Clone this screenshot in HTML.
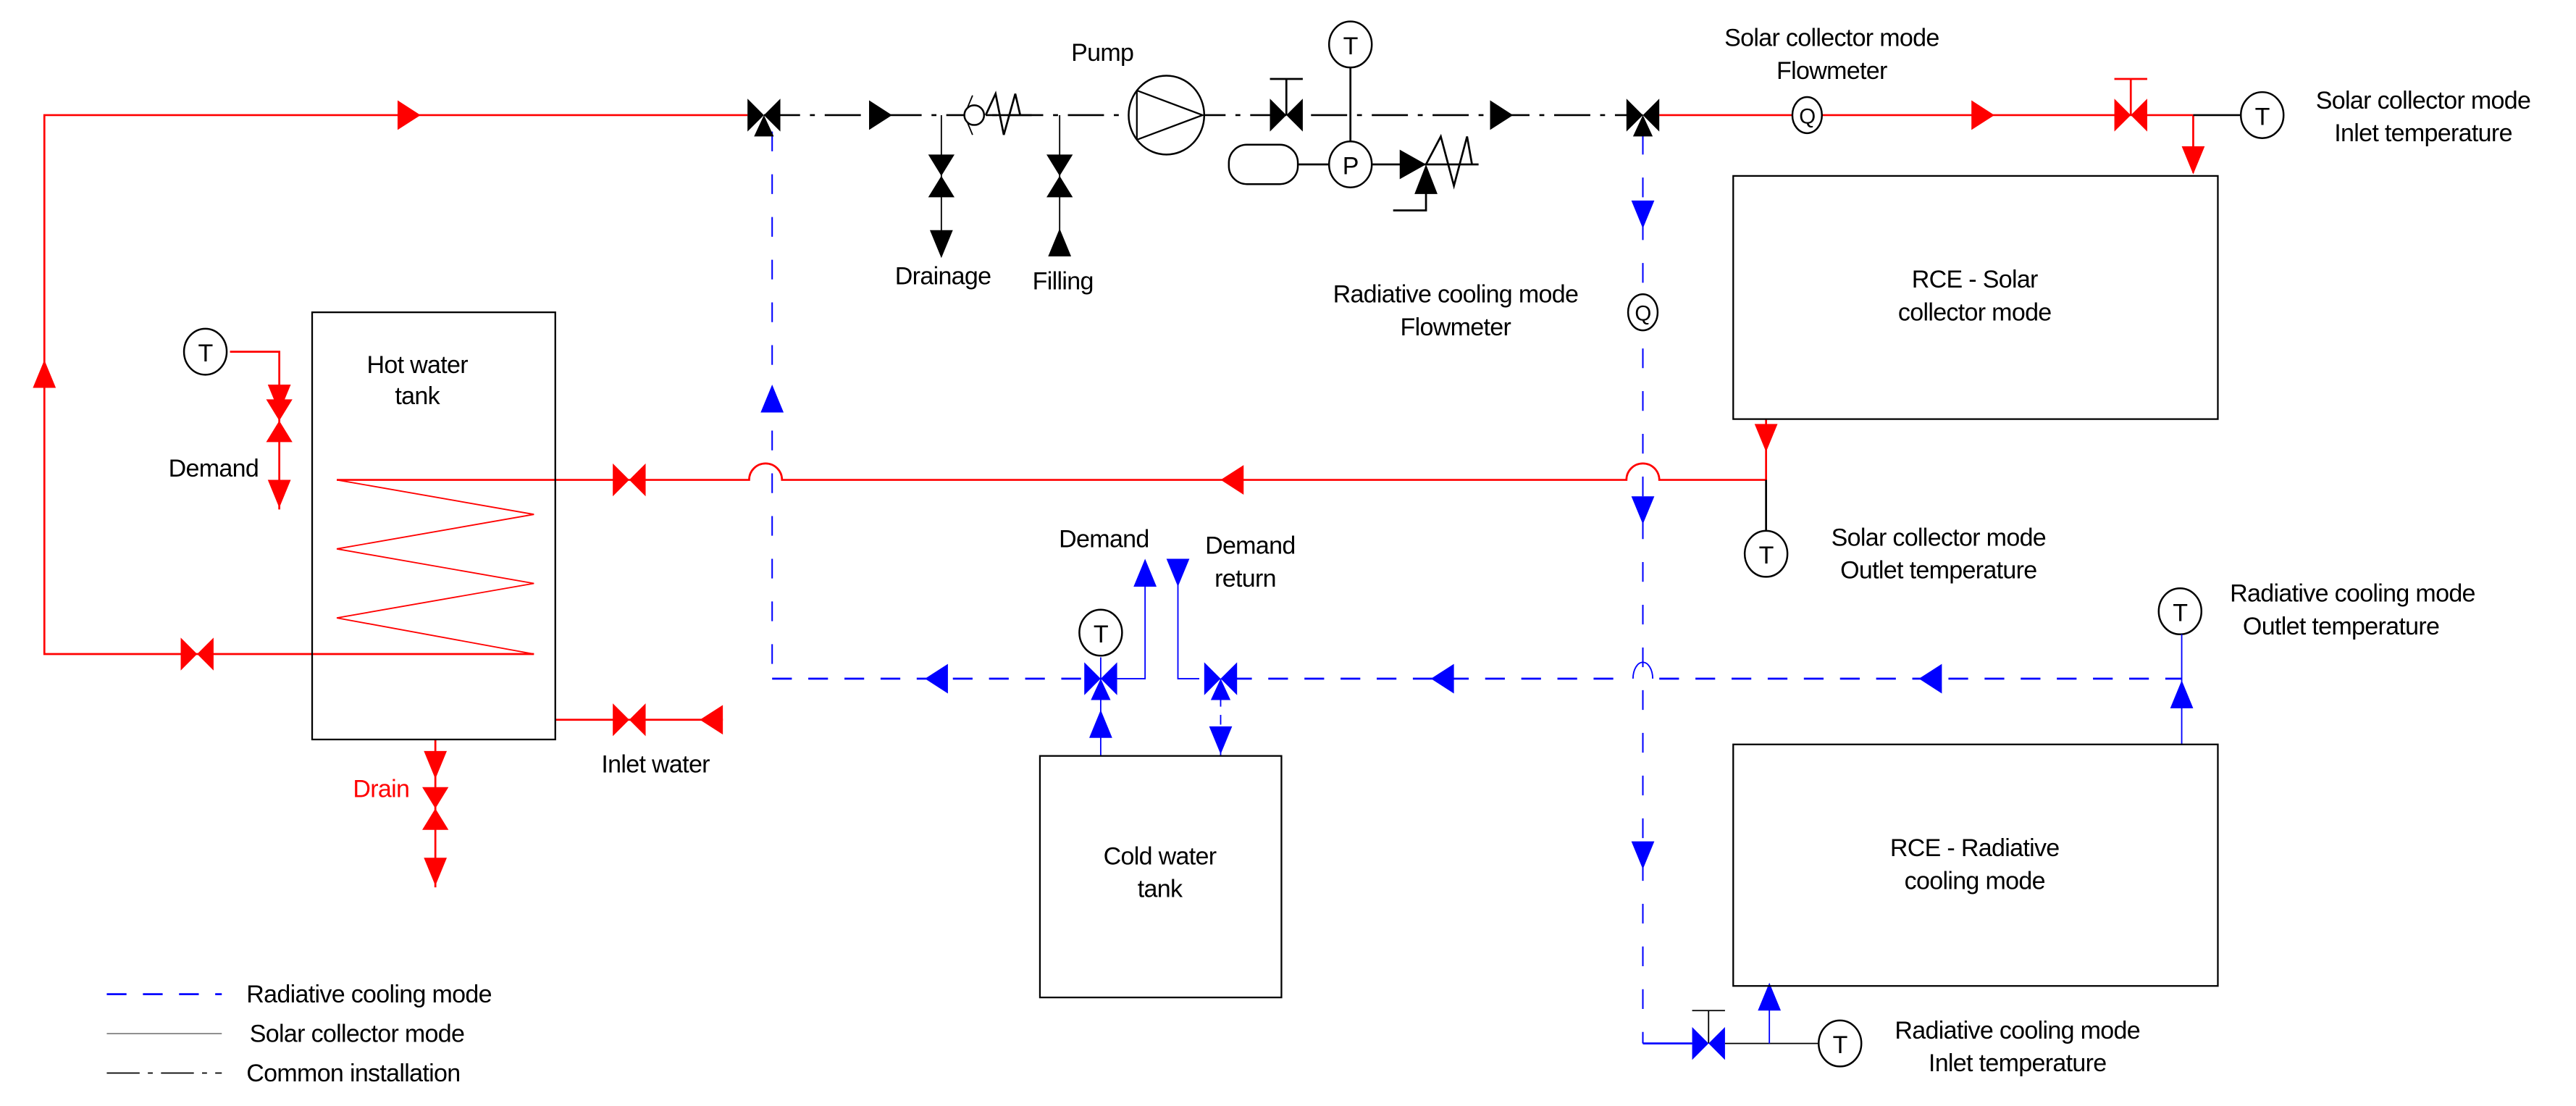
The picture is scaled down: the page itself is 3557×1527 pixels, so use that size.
<!DOCTYPE html>
<html><head><meta charset="utf-8"><style>
html,body{margin:0;padding:0;background:#fff}
svg{display:block}
text{font-family:"Liberation Sans",Arial,sans-serif;font-size:15px;fill:#000;letter-spacing:-0.3px}
</style></head><body>
<svg width="3557" height="1527" viewBox="0 0 1568 673" xmlns="http://www.w3.org/2000/svg">
<defs>
<g id="bh"><polygon points="-10,-10 0,0 -10,10"/><polygon points="10,-10 0,0 10,10"/></g>
<g id="bv"><polygon points="-8,-13 0,0 8,-13"/><polygon points="-8,13 0,0 8,13"/></g>
<polygon id="ar" points="-7,-9 7,0 -7,9"/>
<polygon id="al" points="7,-9 -7,0 7,9"/>
<polygon id="ad" points="-7,-8 0,9 7,-8"/>
<polygon id="au" points="-7,8 0,-9 7,8"/>
<g id="v3"><polygon points="-10,-10 0,0 -10,10"/><polygon points="10,-10 0,0 10,10"/><polygon points="-6,13 0,0 6,13"/></g>
</defs>
<rect width="1568" height="673" fill="#fff"/>

<!-- Blue radiative lines (drawn first) -->
<g stroke="blue" stroke-width="1.2" fill="none" stroke-dasharray="12,10">
<line x1="470" y1="80" x2="470" y2="413" stroke-dasharray="12,14" stroke-width="0.9"/>
<line x1="470" y1="413" x2="660" y2="413"/>
<line x1="750" y1="413" x2="990" y2="413"/>
<line x1="1010" y1="413" x2="1328" y2="413"/>
<line x1="1000" y1="82" x2="1000" y2="635" stroke-dasharray="12,14" stroke-width="0.9"/>
<line x1="1000" y1="635" x2="1030" y2="635" stroke-dasharray="none"/>
</g>

<!-- RED solar loop -->
<g stroke="red" stroke-width="1.2" fill="none">
<polyline points="455,70 27,70 27,398 325,398"/>
<line x1="1010" y1="70" x2="1335" y2="70"/>
<line x1="1335" y1="70" x2="1335" y2="105"/>
<line x1="1297" y1="70" x2="1297" y2="48"/><line x1="1287" y1="48" x2="1307" y2="48"/>
<line x1="1075" y1="255" x2="1075" y2="292"/>
<path d="M1075,292 H1010 a10,10 0 0 0 -20,0 H476 a10,10 0 0 0 -20,0 H205"/>
<polyline points="205,292 325,313 205,334 325,355 205,376 325,398" stroke-width="0.8"/>
<polyline points="140,214 170,214 170,310"/>
<line x1="338" y1="438" x2="440" y2="438"/>
<line x1="265" y1="450" x2="265" y2="540"/>
</g>
<g fill="red">
<use href="#ar" x="249" y="70"/>
<use href="#au" x="27" y="228"/>
<use href="#bh" x="120" y="398"/>
<use href="#bh" x="383" y="292"/>
<use href="#al" x="750" y="292"/>
<use href="#bh" x="383" y="438"/>
<use href="#al" x="433" y="438"/>
<use href="#bv" x="170" y="256"/>
<use href="#ad" x="170" y="242"/>
<use href="#ad" x="170" y="300"/>
<use href="#ad" x="265" y="465"/>
<use href="#bv" x="265" y="492"/>
<use href="#ad" x="265" y="530"/>
<use href="#ar" x="1207" y="70"/>
<use href="#bh" x="1297" y="70"/>
<use href="#ad" x="1335" y="97"/>
<use href="#ad" x="1075" y="266"/>
</g>

<!-- Black common line -->
<g stroke="#000" stroke-width="1.2" fill="none">
<line x1="465" y1="70" x2="1000" y2="70" stroke-dasharray="22,6,3,6"/>
<line x1="1335" y1="70" x2="1364" y2="70"/>
<line x1="1075" y1="292" x2="1075" y2="324"/>
<line x1="783" y1="70" x2="783" y2="48"/><line x1="773" y1="48" x2="793" y2="48"/>
<line x1="822" y1="40" x2="822" y2="87"/>
<line x1="790" y1="100" x2="809" y2="100"/>
<line x1="835" y1="100" x2="900" y2="100"/>
<polyline points="868,102 868,128 848,128"/>
<polyline points="868,100 877,83 885,113 893,83 896,100"/>
<line x1="600" y1="70" x2="628" y2="70"/>
<path d="M592,58 L587,70 L592,82" stroke-width="0.8"/>
<polyline points="600,70 606,57 611,82 618,57 621,70"/>
<line x1="573" y1="70" x2="573" y2="150" stroke-width="0.8"/>
<line x1="645" y1="70" x2="645" y2="150" stroke-width="0.8"/>
</g>
<g fill="#fff" stroke="#000" stroke-width="1.1">
<circle cx="593" cy="70" r="6"/>
<ellipse cx="710" cy="70" rx="23" ry="24"/>
<rect x="748" y="88" width="42" height="24" rx="11"/>
<ellipse cx="822" cy="27" rx="13" ry="14"/>
<ellipse cx="822" cy="100" rx="13" ry="14"/>
<ellipse cx="1377" cy="70" rx="13" ry="14"/>
<ellipse cx="1075" cy="337" rx="13" ry="14"/>
<ellipse cx="1100" cy="70" rx="9" ry="11"/>
<ellipse cx="1000" cy="190" rx="9" ry="11"/>
<ellipse cx="1327" cy="372" rx="13" ry="14"/>
<ellipse cx="1120" cy="635" rx="13" ry="14"/>
<ellipse cx="670" cy="385" rx="13" ry="14"/>
<ellipse cx="125" cy="214" rx="13" ry="14"/>
</g>
<g text-anchor="middle" style="font-size:17px">
<text x="822" y="33">T</text><text x="822" y="106">P</text>
<text x="1377" y="76">T</text><text x="1075" y="343">T</text>
<text x="1327" y="378">T</text><text x="1120" y="641">T</text>
<text x="670" y="391">T</text><text x="125" y="220">T</text>
<text x="1100" y="75" style="font-size:13px">Q</text><text x="1000" y="195" style="font-size:13px">Q</text>
</g>
<g stroke="#000" stroke-width="1" fill="none"><polyline points="692,55 732,70 692,85"/><line x1="692" y1="55" x2="692" y2="85"/></g>
<g fill="#000">
<use href="#v3" x="465" y="70"/>
<use href="#v3" x="1000" y="70"/>
<use href="#ar" x="536" y="70"/>
<use href="#bh" x="783" y="70"/>
<use href="#ar" x="914" y="70"/>
<polygon points="852,91 868,100 852,109"/><polygon points="861,118 868,100 875,118"/>
<use href="#bv" x="573" y="107"/><use href="#ad" x="573" y="148"/>
<use href="#bv" x="645" y="107"/><use href="#au" x="645" y="148"/>
</g>

<!-- Blue details -->
<g stroke="blue" stroke-width="0.8" fill="none">
<path d="M994,413 a6,10 0 0 1 12,0"/>
<polyline points="680,413 697,413 697,350"/>
<polyline points="717,350 717,413 730,413"/>
<line x1="670" y1="400" x2="670" y2="460"/>
<line x1="743" y1="413" x2="743" y2="460" stroke-dasharray="6,5"/>
<line x1="1328" y1="386" x2="1328" y2="453"/>
<line x1="1050" y1="635" x2="1107" y2="635" stroke="#000"/>
<line x1="1077" y1="600" x2="1077" y2="635"/>
<line x1="1040" y1="635" x2="1040" y2="615" stroke="#000"/><line x1="1030" y1="615" x2="1050" y2="615" stroke="#000"/>
</g>
<g fill="blue">
<use href="#au" x="470" y="243"/>
<use href="#ad" x="1000" y="130"/>
<use href="#ad" x="1000" y="310"/>
<use href="#ad" x="1000" y="520"/>
<use href="#al" x="570" y="413"/>
<use href="#al" x="878" y="413"/>
<use href="#al" x="1175" y="413"/>
<use href="#au" x="1328" y="423"/>
<use href="#v3" x="670" y="413"/>
<use href="#v3" x="743" y="413"/>
<use href="#au" x="670" y="441"/>
<use href="#ad" x="743" y="450"/>
<use href="#au" x="697" y="349"/>
<use href="#ad" x="717" y="348"/>
<use href="#bh" x="1040" y="635"/>
<use href="#au" x="1077" y="607"/>
</g>

<!-- boxes -->
<g fill="none" stroke="#000" stroke-width="1">
<rect x="190" y="190" width="148" height="260"/>
<rect x="1055" y="107" width="295" height="148"/>
<rect x="1055" y="453" width="295" height="147"/>
<rect x="633" y="460" width="147" height="147"/>
</g>

<!-- text -->
<g text-anchor="middle">
<text x="254" y="227">Hot water</text><text x="254" y="246">tank</text>
<text x="1202" y="175">RCE - Solar</text><text x="1202" y="195">collector mode</text>
<text x="1202" y="521">RCE - Radiative</text><text x="1202" y="541">cooling mode</text>
<text x="706" y="526">Cold water</text><text x="706" y="546">tank</text>
<text x="1115" y="28">Solar collector mode</text><text x="1115" y="48">Flowmeter</text>
<text x="1475" y="66">Solar collector mode</text><text x="1475" y="86">Inlet temperature</text>
<text x="886" y="184">Radiative cooling mode</text><text x="886" y="204">Flowmeter</text>
<text x="1180" y="332">Solar collector mode</text><text x="1180" y="352">Outlet temperature</text>
<text x="1432" y="366">Radiative cooling mode</text><text x="1425" y="386">Outlet temperature</text>
<text x="1228" y="632">Radiative cooling mode</text><text x="1228" y="652">Inlet temperature</text>
<text x="671" y="37">Pump</text>
<text x="574" y="173">Drainage</text>
<text x="647" y="176">Filling</text>
<text x="130" y="290">Demand</text>
<text x="232" y="485" style="fill:red">Drain</text>
<text x="399" y="470">Inlet water</text>
<text x="672" y="333">Demand</text>
<text x="761" y="337">Demand</text><text x="758" y="357">return</text>
</g>

<!-- legend -->
<line x1="65" y1="605" x2="135" y2="605" stroke="blue" stroke-width="1.2" stroke-dasharray="12,10"/>
<line x1="65" y1="629" x2="135" y2="629" stroke="#888" stroke-width="0.8"/>
<line x1="65" y1="653" x2="135" y2="653" stroke="#000" stroke-width="0.8" stroke-dasharray="20,5,3,5"/>
<text x="150" y="610">Radiative cooling mode</text>
<text x="152" y="634">Solar collector mode</text>
<text x="150" y="658">Common installation</text>
</svg>
</body></html>
